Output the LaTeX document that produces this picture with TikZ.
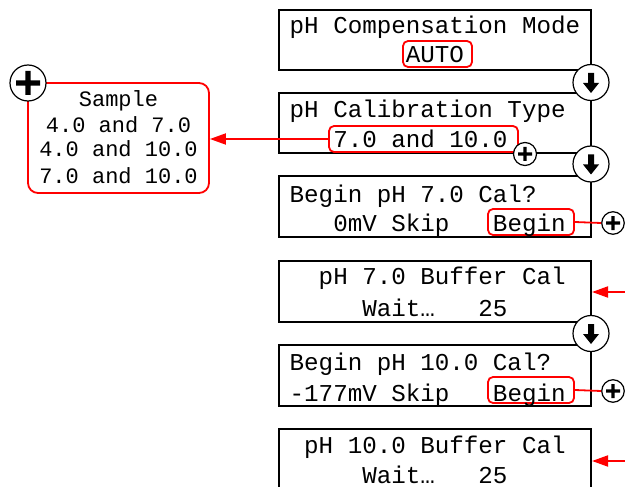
\documentclass[tikz,border=0pt]{standalone}
\usepackage{fontspec}
\setmainfont{Liberation Mono}
\usetikzlibrary{arrows.meta}
\newcommand\downmark[1]{\fill[shift={(#1.center)}] (-3,-9.5) -- (3,-9.5) -- (3,0.5) -- (8,0.5) -- (0,10.5) -- (-8,0.5) -- (-3,0.5) -- cycle;}
\newcommand\bigplusmark[1]{\fill[shift={(#1.center)}] (-2.6,-12) rectangle (2.6,12) (-12,-2.6) rectangle (12,2.6);}
\newcommand\smallplusmark[1]{\fill[shift={(#1.center)}] (-1.6,-7) rectangle (1.6,7) (-7,-1.6) rectangle (7,1.6);}
\begin{document}
\begin{tikzpicture}[x=1pt,y=-1pt,
  lcdbox/.style={draw=black, line width=2pt, minimum width=312pt, minimum height=60pt, inner sep=0pt},
  selbox/.style={draw=red, line width=1.8pt, rounded corners=5pt, inner sep=0pt},
  lcdtext/.style={anchor=base west, inner sep=0pt, font=\fontsize{24.2pt}{24pt}\selectfont},
  smalltext/.style={anchor=base, inner sep=0pt, font=\fontsize{22pt}{22pt}\selectfont},
  bigcirc/.style={circle, draw=black, line width=1.2pt, fill=white, minimum size=36pt, inner sep=0pt},
  smallcirc/.style={circle, draw=black, line width=1.2pt, fill=white, minimum size=22.5pt, inner sep=0pt},
  redline/.style={draw=red, line width=1.8pt},
  redarrow/.style={redline, -{Triangle[length=16pt,width=11pt]}}
]
\useasboundingbox (0,0) rectangle (625,487);
\clip (0,0) rectangle (625,487);
\def\xo{289.5}
\def\pt{14.52}
% LCD boxes
\node[lcdbox] (box1) at (435,40) {};
\node[lcdbox] (box2) at (435,123.5) {};
\node[lcdbox, minimum height=61pt] (box3) at (435,206.5) {};
\node[lcdbox, minimum height=61pt] (box4) at (435,291.5) {};
\node[lcdbox, minimum height=61pt] (box5) at (435,375.5) {};
\node[lcdbox, minimum height=61pt] (box6) at (435,459.5) {};
% selection boxes
\node[selbox, minimum width=69pt, minimum height=26pt] (sel1) at (437.5,54) {};
\node[selbox, minimum width=189pt, minimum height=26pt] (sel2) at (423.5,139) {};
\node[selbox, minimum width=86pt, minimum height=26pt] (sel3) at (531,222) {};
\node[selbox, minimum width=86pt, minimum height=26pt] (sel5) at (531,390) {};
% texts
\node[lcdtext] (t1a) at ({\xo},34) {pH Compensation Mode};
\node[lcdtext] (t1b) at ({\xo+8*\pt},63) {AUTO};
\node[lcdtext] (t2a) at ({\xo},118) {pH Calibration Type};
\node[lcdtext] (t2b) at ({\xo+3*\pt},147) {7.0 and 10.0};
\node[lcdtext] (t3a) at ({\xo},202) {Begin pH 7.0 Cal?};
\node[lcdtext] (t3b) at ({\xo+3*\pt},231) {0mV Skip};
\node[lcdtext] (t3c) at ({\xo+14*\pt},231) {Begin};
\node[lcdtext] (t4a) at ({\xo+2*\pt},284) {pH 7.0 Buffer Cal};
\node[lcdtext] (t4b) at ({\xo+5*\pt},316) {Wait…};
\node[lcdtext] (t4c) at ({\xo+13*\pt},316) {25};
\node[lcdtext] (t5a) at ({\xo},370) {Begin pH 10.0 Cal?};
\node[lcdtext] (t5b) at ({\xo},401) {-177mV Skip};
\node[lcdtext] (t5c) at ({\xo+14*\pt},401) {Begin};
\node[lcdtext] (t6a) at ({\xo+\pt},453) {pH 10.0 Buffer Cal};
\node[lcdtext] (t6b) at ({\xo+5*\pt},483) {Wait…};
\node[lcdtext] (t6c) at ({\xo+13*\pt},483) {25};
% left options box
\node[draw=red, line width=1.8pt, rounded corners=10pt, minimum width=181pt, minimum height=110pt, inner sep=0pt] (opts) at (118.5,138) {};
\node[smalltext] (o1) at (118.5,107) {Sample};
\node[smalltext] (o2) at (118.5,132) {4.0 and 7.0};
\node[smalltext] (o3) at (118.5,157) {4.0 and 10.0};
\node[smalltext] (o4) at (118.5,183) {7.0 and 10.0};
% connectors
\draw[redarrow] (sel2.west) -- (sel2.west -| opts.east);
\coordinate (e4) at (625,292);
\coordinate (e6) at (625,461);
\draw[redarrow] (e4) -- (e4 -| box4.east);
\draw[redarrow] (e6) -- (e6 -| box6.east);
\node[smallcirc] (p3) at (613,223) {};
\node[smallcirc] (p5) at (613,391) {};
\draw[redline] (sel3.east) -- (p3.west);
\draw[redline] (sel5.east) -- (p5.west);
\smallplusmark{p3}
\smallplusmark{p5}
% circles
\node[bigcirc] (d1) at (591,82.5) {};
\node[bigcirc] (d2) at (591,164) {};
\node[bigcirc] (d4) at (591,333.5) {};
\downmark{d1}
\downmark{d2}
\downmark{d4}
\node[smallcirc, minimum size=23pt] (p2) at (525,154) {};
\smallplusmark{p2}
\node[bigcirc] (pl) at (28,83) {};
\bigplusmark{pl}
\end{tikzpicture}
\end{document}
